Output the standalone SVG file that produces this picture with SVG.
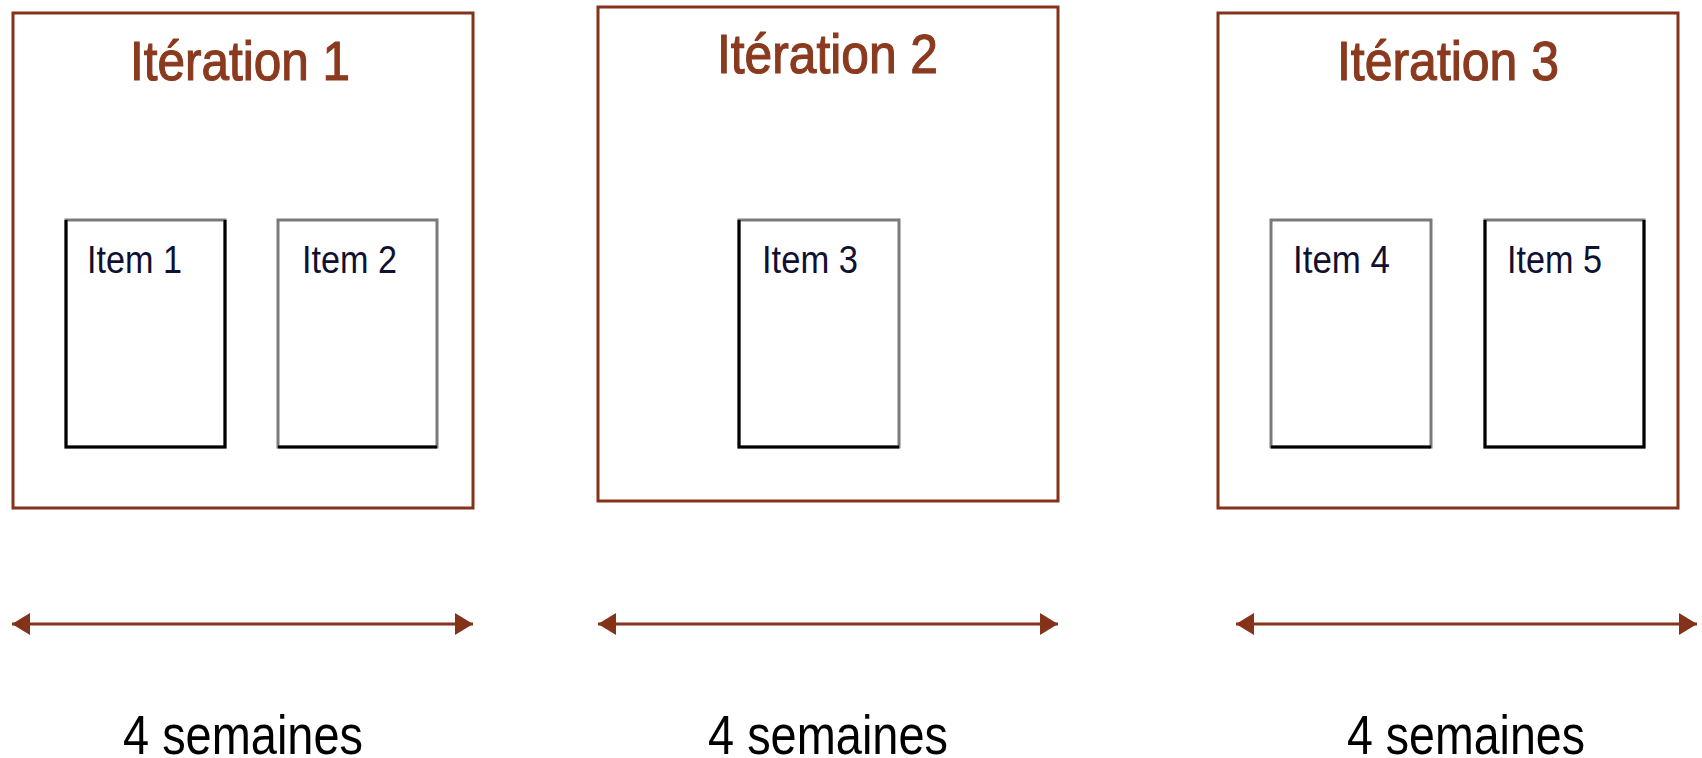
<svg xmlns="http://www.w3.org/2000/svg" width="1702" height="758" viewBox="0 0 1702 758">
  <style>
    .iter { fill: #ffffff; stroke: #843219; stroke-width: 3; }
    .title { font-family: "Liberation Sans", Arial, sans-serif; font-size: 56px; font-weight: normal; fill: #8a3a1e; stroke: #8a3a1e; stroke-width: 1.2; }
    .item { fill: #ffffff; stroke: #7a7a7a; stroke-width: 3; }
    .edge { stroke: #000000; stroke-width: 3; fill: none; }
    .itemtxt { font-family: "Liberation Sans", Arial, sans-serif; font-size: 38px; fill: #101030; }
    .dur { font-family: "Liberation Sans", Arial, sans-serif; font-size: 56px; fill: #000000; }
    .arrow { stroke: #843219; stroke-width: 3; fill: none; marker-start: url(#headL); marker-end: url(#headR); }
  </style>
  <defs>
    <marker id="headR" markerUnits="userSpaceOnUse" markerWidth="20" markerHeight="24" refX="18" refY="12" orient="auto">
      <path d="M0,1 L18,12 L0,23 Z" fill="#843219"/>
    </marker>
    <marker id="headL" markerUnits="userSpaceOnUse" markerWidth="20" markerHeight="24" refX="0" refY="12" orient="auto">
      <path d="M18,1 L0,12 L18,23 Z" fill="#843219"/>
    </marker>
  </defs>
  <rect width="1702" height="758" fill="#ffffff"/>

  <g id="iteration1">
    <rect class="iter" x="13" y="13" width="460" height="495"/>
    <text class="title" x="130" y="80" textLength="220" lengthAdjust="spacingAndGlyphs">Itération 1</text>
  </g>
  <g id="item1">
    <rect class="item" x="66" y="220" width="159" height="227"/>
    <path class="edge" d="M66,220 V447 H225 V220"/>
    <text class="itemtxt" x="87" y="273" textLength="95" lengthAdjust="spacingAndGlyphs">Item 1</text>
  </g>
  <g id="item2">
    <rect class="item" x="278" y="220" width="159" height="227"/>
    <path class="edge" d="M278,447 H437"/>
    <text class="itemtxt" x="302" y="273" textLength="95" lengthAdjust="spacingAndGlyphs">Item 2</text>
  </g>

  <g id="iteration2">
    <rect class="iter" x="598" y="7" width="460" height="494"/>
    <text class="title" x="717" y="73" textLength="221" lengthAdjust="spacingAndGlyphs">Itération 2</text>
  </g>
  <g id="item3">
    <rect class="item" x="739" y="220" width="160" height="227"/>
    <path class="edge" d="M739,220 V447 H899"/>
    <text class="itemtxt" x="762" y="273" textLength="96" lengthAdjust="spacingAndGlyphs">Item 3</text>
  </g>

  <g id="iteration3">
    <rect class="iter" x="1218" y="13" width="460" height="495"/>
    <text class="title" x="1337" y="80" textLength="222" lengthAdjust="spacingAndGlyphs">Itération 3</text>
  </g>
  <g id="item4">
    <rect class="item" x="1271" y="220" width="160" height="227"/>
    <path class="edge" d="M1271,447 H1431"/>
    <text class="itemtxt" x="1293" y="273" textLength="97" lengthAdjust="spacingAndGlyphs">Item 4</text>
  </g>
  <g id="item5">
    <rect class="item" x="1485" y="220" width="159" height="227"/>
    <path class="edge" d="M1485,220 V447 H1644 V220"/>
    <text class="itemtxt" x="1507" y="273" textLength="95" lengthAdjust="spacingAndGlyphs">Item 5</text>
  </g>

  <g id="connectors">
    <line class="arrow" x1="12" y1="624" x2="473" y2="624"/>
    <line class="arrow" x1="598" y1="624" x2="1058" y2="624"/>
    <line class="arrow" x1="1236" y1="624" x2="1697" y2="624"/>
  </g>

  <g id="durations">
    <text class="dur" x="123" y="754" textLength="240" lengthAdjust="spacingAndGlyphs">4 semaines</text>
    <text class="dur" x="708" y="754" textLength="240" lengthAdjust="spacingAndGlyphs">4 semaines</text>
    <text class="dur" x="1347" y="754" textLength="238" lengthAdjust="spacingAndGlyphs">4 semaines</text>
  </g>
</svg>
